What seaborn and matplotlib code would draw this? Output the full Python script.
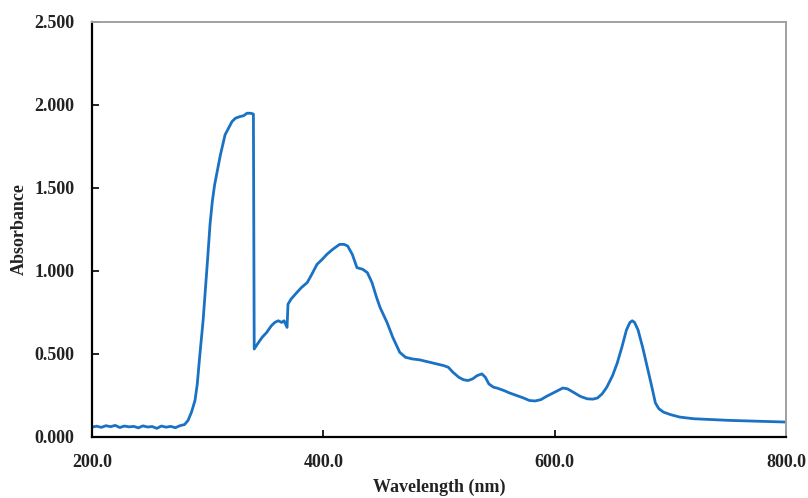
import numpy as np
import pandas as pd
import matplotlib
matplotlib.use("Agg")
import matplotlib.pyplot as plt
import seaborn as sns

# absorbance spectrum
wavelength = [200, 204, 208, 212, 216, 220, 224, 228, 232, 236, 240, 244, 248, 252,
              256, 260, 264, 268, 272, 276, 280, 283, 286, 289, 291, 293, 296, 298,
              300, 302, 304, 306, 309, 311, 313, 315, 318, 321, 324, 328, 331, 334,
              337, 339.5, 340.2, 343, 347, 351, 355, 358, 361, 364, 366, 368.6,
              369.4, 372, 377, 381, 386, 390, 394.5, 399, 403, 408, 414, 418, 421,
              425, 429, 434, 438, 442, 446, 449, 455, 460, 466, 471, 477, 483, 492,
              498, 504, 508, 512, 517, 521, 525, 529, 533, 537, 540, 543, 547, 550,
              556, 561, 567, 573, 578, 583, 588, 593, 600, 607, 611, 616, 622, 628,
              633, 637, 641, 645, 650, 654, 658, 662, 665, 667, 669, 672, 676, 680,
              684, 687, 690, 694, 700, 708, 720, 735, 751, 765, 780, 790, 800]
absorbance = [0.060, 0.065, 0.058, 0.068, 0.062, 0.070, 0.057, 0.066, 0.061, 0.064, 0.055,
              0.067, 0.060, 0.063, 0.052, 0.066, 0.059, 0.064, 0.056, 0.068, 0.075, 0.10,
              0.15, 0.22, 0.32, 0.48, 0.70, 0.89, 1.08, 1.28, 1.42, 1.52, 1.63, 1.70,
              1.76, 1.82, 1.86, 1.90, 1.92, 1.93, 1.935, 1.95, 1.95, 1.945, 0.53,
              0.56, 0.60, 0.63, 0.67, 0.69, 0.70, 0.69, 0.70, 0.66, 0.80, 0.83, 0.87,
              0.90, 0.93, 0.98, 1.04, 1.07, 1.10, 1.13, 1.16, 1.16, 1.15, 1.10, 1.02,
              1.01, 0.99, 0.93, 0.84, 0.78, 0.69, 0.60, 0.51, 0.48, 0.47, 0.465,
              0.45, 0.44, 0.43, 0.42, 0.39, 0.36, 0.345, 0.34, 0.35, 0.37, 0.38, 0.36,
              0.32, 0.30, 0.295, 0.28, 0.265, 0.25, 0.235, 0.22, 0.217, 0.225, 0.245,
              0.27, 0.295, 0.29, 0.27, 0.245, 0.23, 0.228, 0.235, 0.26, 0.30, 0.37,
              0.445, 0.54, 0.645, 0.69, 0.70, 0.69, 0.645, 0.54, 0.42, 0.30, 0.205,
              0.17, 0.15, 0.135, 0.12, 0.11, 0.105, 0.10, 0.097, 0.094, 0.092, 0.09]

x_ticks = [200, 400, 600, 800]
y_ticks = [0.0, 0.5, 1.0, 1.5, 2.0, 2.5]

df = pd.DataFrame({"Wavelength": wavelength, "Absorbance": absorbance})

sns.set_theme(style="white")
plt.rcParams["font.family"] = ["Liberation Serif", "DejaVu Serif"]

fig = plt.figure(figsize=(8.08, 4.98), dpi=100)
ax = fig.add_axes([0.1139, 0.1225, 0.859, 0.8335])

sns.lineplot(data=df, x="Wavelength", y="Absorbance", ax=ax, color="#1a72c4",
             linewidth=2.0, sort=False)

ax.set_xlim(200, 800)
ax.set_ylim(0, 2.5)
ax.set_xticks(x_ticks)
ax.set_yticks(y_ticks)
ax.set_xticklabels([f"{v:.1f}" for v in x_ticks], fontweight="bold", fontsize=13, color="#222222")
ax.set_yticklabels([f"{v:.3f}" for v in y_ticks], fontweight="bold", fontsize=13, color="#222222")
ax.tick_params(axis="both", direction="in", length=5, width=1.2, color="black", pad=12.5,
               bottom=True, left=True)
ax.tick_params(axis="x", pad=12)

ax.set_xlabel("Wavelength (nm)", fontweight="bold", fontsize=13, color="#222222", labelpad=6)
ax.set_ylabel("Absorbance", fontweight="bold", fontsize=13, color="#222222", labelpad=5)

for side in ["left", "bottom"]:
    ax.spines[side].set_color("black")
    ax.spines[side].set_linewidth(1.6)
for side in ["top", "right"]:
    ax.spines[side].set_color("#a0a0a0")
    ax.spines[side].set_linewidth(1.4)

fig.savefig("out.png", dpi=100)
